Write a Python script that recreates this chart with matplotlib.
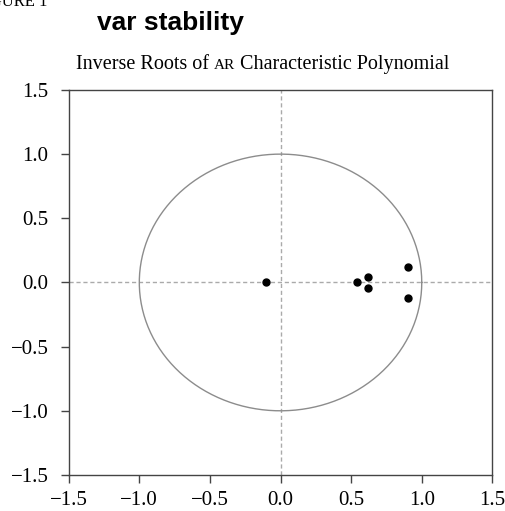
import numpy as np
import matplotlib
matplotlib.use("Agg")
import matplotlib.pyplot as plt

root_re = [-0.10, 0.54, 0.62, 0.62, 0.90, 0.90]
root_im = [0.00, 0.00, 0.04, -0.04, 0.12, -0.12]

xticks = [-1.5, -1.0, -0.5, 0.0, 0.5, 1.0, 1.5]
yticks = [-1.5, -1.0, -0.5, 0.0, 0.5, 1.0, 1.5]

SERIF = "Liberation Serif"
SANS = "Liberation Sans"

fig = plt.figure(figsize=(5.05, 5.11), dpi=100)
ax = fig.add_axes([0.136, 0.0705, 0.839, 0.7535])

# unit circle + reference axes
t = np.linspace(0, 2 * np.pi, 400)
ax.plot(np.cos(t), np.sin(t), color="#8c8c8c", lw=1.0, zorder=2)
ax.axhline(0, color="#aaaaaa", lw=1.0, ls=(0, (3, 2)), zorder=1)
ax.axvline(0, color="#aaaaaa", lw=1.0, ls=(0, (3, 2)), zorder=1)
ax.plot(root_re, root_im, "o", color="black", ms=5, zorder=3)

ax.set_xlim(-1.5, 1.5)
ax.set_ylim(-1.5, 1.5)
ax.set_xticks(xticks)
ax.set_yticks(yticks)
ax.set_xticklabels([f"{v:.1f}".replace("-", "\u2212") for v in xticks])
ax.set_yticklabels([f"{v:.1f}".replace("-", "\u2212") for v in yticks])
for s in ax.spines.values():
    s.set_color("#444444")
    s.set_linewidth(1.0)
ax.tick_params(direction="out", length=5.5, width=1.0, color="#444444",
               labelsize=15, pad=6)
ax.tick_params(axis="y", pad=9)
for lab in ax.get_xticklabels() + ax.get_yticklabels():
    lab.set_fontfamily(SERIF)

# header texts (figure label is clipped by the top edge, as in the source)
fig.text(-0.05, 0.997, "FIGURE 1", fontfamily=SERIF, fontsize=12, va="center")
fig.text(0.192, 0.942, "var stability", fontfamily=SANS, fontweight="bold",
         fontsize=19, va="baseline")

# title with small-caps "AR"
fig.canvas.draw()
r = fig.canvas.get_renderer()
x0, yb = 76 / 505, 1 - 69 / 511
parts = [("Inverse Roots of ", 14.5), ("AR", 11), (" Characteristic Polynomial", 14.5)]
x = x0
for txt, fs in parts:
    tt = fig.text(x, yb, txt, fontfamily=SERIF, fontsize=fs, va="baseline")
    bb = tt.get_window_extent(renderer=r)
    x += bb.width / fig.bbox.width

fig.savefig("out.png", dpi=100)
